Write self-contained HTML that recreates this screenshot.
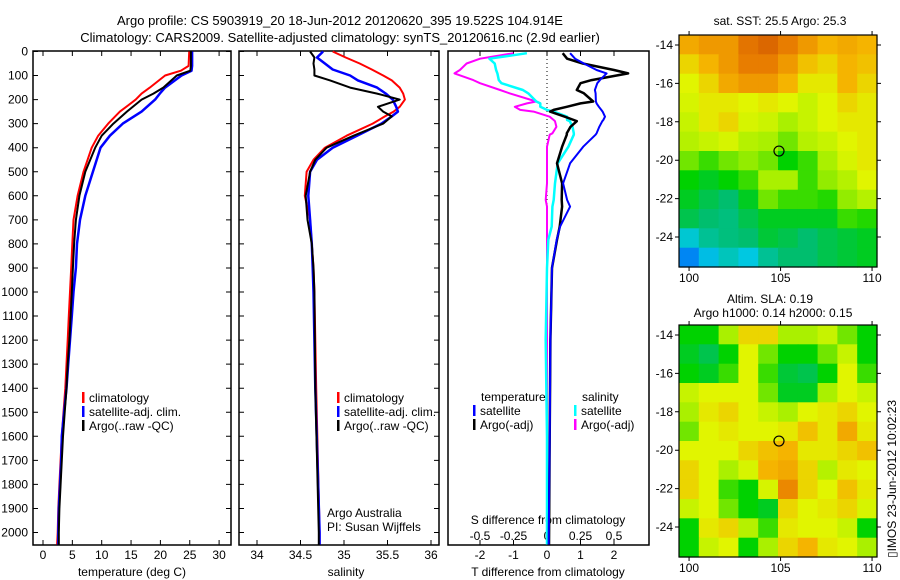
<!DOCTYPE html>
<html><head><meta charset="utf-8"><style>
html,body{margin:0;padding:0;background:#fff;}
svg{display:block;font-family:"Liberation Sans",sans-serif;}
text{fill:#000;font-size:12px;}
</style></head><body>
<svg id="fig" width="900" height="580" viewBox="0 0 900 580" xmlns="http://www.w3.org/2000/svg">
<text x="340" y="25" text-anchor="middle" style="font-size:13px">Argo profile: CS 5903919_20 18-Jun-2012 20120620_395 19.522S 104.914E</text>
<text x="340" y="42" text-anchor="middle" style="font-size:13px">Climatology: CARS2009. Satellite-adjusted climatology: synTS_20120616.nc (2.9d earlier)</text>
<g id="p1"></g>
<g id="p2"></g>
<g id="p3"></g>
<g id="m1"></g>
<g id="m2"></g>
<text x="0" y="0" transform="translate(896,558) rotate(-90)" style="font-size:12px">▯IMOS 23-Jun-2012 10:02:23</text>
</svg>
<script>
// ---- profile data ----
const depthT = [0,60,80,100,150,175,200,250,300,350,400,500,600,700,800,900,1000,1100,1200,1300,1400,1500,1600,1700,1800,1900,2000,2050];
const tempClim = [24.9,24.8,23.5,20.8,18.2,16.8,15.8,13.1,11.1,9.4,8.3,6.9,5.9,5.2,5.0,4.8,4.6,4.4,4.2,4.0,3.8,3.5,3.2,3.0,2.8,2.6,2.5,2.4];
const tempSat = [25.4,25.4,25.3,23.6,20.8,19.9,19.1,16.8,13.6,11.4,9.8,8.5,7.2,6.3,5.8,5.6,5.2,4.9,4.6,4.3,4.0,3.6,3.2,3.1,2.9,2.7,2.6,2.6];
const tempArgo = [25.2,25.2,25.1,22.8,20.5,18.8,16.8,14.3,12.0,10.0,8.9,7.2,6.2,5.6,5.3,5.1,4.9,4.7,4.5,4.2,4.0,3.7,3.4,3.2,3.0,2.8,2.7,2.7];
const depthS = [0,25,50,75,100,120,150,175,200,230,250,270,300,350,400,450,500,600,700,800,900,1000,1400,2000,2050];
const salClim = [34.87,35.02,35.18,35.32,35.45,35.55,35.64,35.68,35.70,35.64,35.57,35.47,35.33,35.03,34.78,34.65,34.57,34.55,34.61,34.63,34.65,34.66,34.68,34.72,34.72];
const salSat = [34.76,34.69,34.78,34.87,35.07,35.16,35.38,35.48,35.56,35.60,35.62,35.55,35.43,35.15,34.87,34.69,34.61,34.59,34.61,34.63,34.64,34.65,34.67,34.72,34.72];
const salArgo = [34.61,34.66,34.65,34.66,34.66,34.84,35.07,35.38,35.64,35.39,35.45,35.55,35.45,35.11,34.80,34.67,34.61,34.56,34.58,34.63,34.65,34.66,34.67,34.71,34.71];
const depthD = [7,30,50,77,91,119,132,160,174,208,216,230,243,250,271,285,290,313,340,346,396,465,548,617,645,728,783,900,1200,1600,2050];
const dTsat = [0.69,0.84,1.1,1.48,1.78,1.58,1.5,1.43,1.45,1.46,1.48,1.55,1.62,1.66,1.73,1.68,1.65,1.56,1.48,1.45,1.08,0.69,0.48,0.6,0.69,0.39,0.29,0.15,0.1,0.08,0.05];
const dTargo = [0.47,0.6,1.07,2.0,2.42,1.33,1.0,0.89,1.1,1.38,1.0,0.59,0.2,0.09,0.53,0.8,0.89,0.7,0.59,0.59,0.45,0.3,0.45,0.44,0.45,0.38,0.3,0.15,0.1,0.08,0.06];
const dSsat = [-0.15,-0.43,-0.39,-0.38,-0.37,-0.36,-0.34,-0.18,-0.14,-0.08,-0.05,-0.05,-0.0,0.05,0.15,0.15,0.17,0.19,0.20,0.20,0.16,0.08,0.06,0.05,0.04,0.035,0.01,0.0,-0.01,0.0,0.0];
const dSargo = [-0.25,-0.5,-0.6,-0.65,-0.69,-0.55,-0.5,-0.35,-0.28,-0.08,-0.15,-0.24,-0.2,-0.1,0.02,0.05,0.06,0.07,0.04,0.02,0.0,0.0,0.0,-0.01,0.0,0.0,0.0,0.0,0.0,0.0,0.0];
const depthTicks = [0,100,200,300,400,500,600,700,800,900,1000,1100,1200,1300,1400,1500,1600,1700,1800,1900,2000];
const tempTicks = [0,5,10,15,20,25,30];
const salTicks = [34,34.5,35,35.5,36];
const tdTicks = [-2,-1,0,1,2];
const sdTicks = [-0.5,-0.25,0,0.25,0.5];
const sdTickLabels = ["-0.5","-0.25","0","0.25","0.5"];
// ---- map data (0..1 colour index, rows lat -14..-25, cols lon ~100..110) ----
const sstGrid = [
[0.82,0.85,0.85,0.92,0.95,0.9,0.85,0.8,0.82,0.8],
[0.75,0.8,0.85,0.9,0.9,0.85,0.78,0.75,0.8,0.78],
[0.7,0.75,0.82,0.85,0.85,0.8,0.72,0.72,0.8,0.75],
[0.68,0.72,0.72,0.7,0.72,0.7,0.65,0.7,0.75,0.72],
[0.65,0.72,0.75,0.68,0.66,0.6,0.65,0.7,0.72,0.72],
[0.62,0.65,0.68,0.62,0.6,0.55,0.62,0.65,0.7,0.72],
[0.55,0.5,0.55,0.58,0.55,0.45,0.5,0.6,0.68,0.72],
[0.45,0.42,0.45,0.5,0.6,0.6,0.5,0.58,0.62,0.7],
[0.42,0.38,0.35,0.42,0.55,0.5,0.5,0.48,0.58,0.62],
[0.38,0.35,0.33,0.38,0.42,0.42,0.42,0.42,0.5,0.48],
[0.22,0.3,0.33,0.35,0.4,0.38,0.35,0.38,0.4,0.42],
[0.08,0.18,0.25,0.2,0.3,0.35,0.35,0.38,0.4,0.42]];
const slaGrid = [
[0.45,0.45,0.6,0.75,0.75,0.6,0.6,0.65,0.55,0.45],
[0.42,0.38,0.45,0.7,0.55,0.45,0.45,0.55,0.65,0.45],
[0.45,0.42,0.5,0.7,0.5,0.4,0.38,0.45,0.7,0.5],
[0.65,0.7,0.7,0.7,0.55,0.42,0.42,0.6,0.7,0.65],
[0.6,0.72,0.75,0.7,0.65,0.6,0.7,0.72,0.75,0.7],
[0.55,0.7,0.72,0.7,0.7,0.72,0.78,0.72,0.82,0.72],
[0.7,0.7,0.7,0.75,0.78,0.8,0.72,0.72,0.75,0.78],
[0.75,0.7,0.6,0.68,0.8,0.82,0.75,0.62,0.72,0.7],
[0.75,0.7,0.5,0.45,0.68,0.88,0.75,0.7,0.78,0.72],
[0.65,0.7,0.55,0.45,0.42,0.75,0.7,0.72,0.75,0.68],
[0.45,0.72,0.75,0.62,0.5,0.72,0.7,0.7,0.65,0.45],
[0.45,0.65,0.7,0.45,0.6,0.75,0.8,0.72,0.7,0.6]];
const lonTicks = [100,105,110];
const latTicks = [-14,-16,-18,-20,-22,-24];
const floatLon = 104.914, floatLat = -19.522;

const NS = "http://www.w3.org/2000/svg";
function mk(parent, tag, attrs, txt){ const e=document.createElementNS(NS,tag); for(const k in attrs) e.setAttribute(k,attrs[k]); if(txt!==undefined) e.textContent=txt; parent.appendChild(e); return e; }
const yD = d => 51.5 + 0.2405*d;
const PT=51, PB=545;

function frame(g, x0, x1, name){
  const r=mk(g,'rect',{x:x0,y:PT,width:x1-x0,height:PB-PT,fill:'none',stroke:'#000','stroke-width':1.5});
  
  
  depthTicks.forEach(d=>{ const y=yD(d);
    const t=mk(g,'path',{d:`M${x0},${y}h5M${x1},${y}h-5`,stroke:'#000','stroke-width':1});
    
    
  });
}
function line(g, xs, ds, xf, color, name, w){
  const p = xs.map((v,i)=>`${i?'L':'M'}${xf(v).toFixed(1)},${yD(ds[i]).toFixed(1)}`).join('');
  const e=mk(g,'path',{d:p,fill:'none',stroke:color,'stroke-width':w||2,'stroke-linejoin':'round'});
  
  
}
function xticks(g, ticks, labels, xf, ylab, name){
  ticks.forEach((v,i)=>{ const x=xf(v);
    const t=mk(g,'path',{d:`M${x},${PB}v-5M${x},${PT}v5`,stroke:'#000','stroke-width':1});
    
    
    const l=mk(g,'text',{x:x,y:ylab,'text-anchor':'middle'},labels[i]);
    
    
  });
}
function legend(g, x, y0, items){
  items.forEach((it,i)=>{ const y=y0+i*14;
    const m=mk(g,'rect',{x:x,y:y-10,width:2.5,height:11,fill:it[1]});
    
    
    const t=mk(g,'text',{x:x+7,y:y},it[0]);
    
    
  });
}

// Panel 1
const p1=document.getElementById('p1');
const xT = v => 43 + 5.87*v;
frame(p1,33,231,'temperature-axes');
depthTicks.forEach(d=>{ const t=mk(p1,'text',{x:28,y:yD(d)+4,'text-anchor':'end'},String(d));
  
   });
xticks(p1,tempTicks,tempTicks.map(String),xT,559,'temperature-tick-label');
line(p1,tempClim,depthT,xT,'#f00','temperature-climatology-line');
line(p1,tempSat,depthT,xT,'#00f','temperature-satellite-line',2.5);
line(p1,tempArgo,depthT,xT,'#000','temperature-argo-line');
legend(p1,82,402,[['climatology','#f00'],['satellite-adj. clim.','#00f'],['Argo(..raw -QC)','#000']]);
mk(p1,'text',{x:132,y:576,'text-anchor':'middle'},'temperature (deg C)');

// Panel 2
const p2=document.getElementById('p2');
const xS = v => 257 + 87*(v-34);
frame(p2,239,439,'salinity-axes');
xticks(p2,salTicks,salTicks.map(String),xS,559,'salinity-tick-label');
line(p2,salClim,depthS,xS,'#f00','salinity-climatology-line');
line(p2,salSat,depthS,xS,'#00f','salinity-satellite-line',2.5);
line(p2,salArgo,depthS,xS,'#000','salinity-argo-line');
legend(p2,337,402,[['climatology','#f00'],['satellite-adj. clim.','#00f'],['Argo(..raw -QC)','#000']]);
mk(p2,'text',{x:327,y:517},'Argo Australia');
mk(p2,'text',{x:327,y:531},'PI: Susan Wijffels');
mk(p2,'text',{x:346,y:576,'text-anchor':'middle'},'salinity');

// Panel 3
const p3=document.getElementById('p3');
const xDT = v => 547 + 33.5*v;
const xDS = v => 547 + 134*v;
mk(p3,'rect',{x:448,y:PT,width:201,height:PB-PT,fill:'none',stroke:'#000','stroke-width':1.5});
mk(p3,'line',{x1:xDT(0),y1:PT,x2:xDT(0),y2:PB,stroke:'#000','stroke-width':1,'stroke-dasharray':'1,3'});
xticks(p3,tdTicks,tdTicks.map(String),xDT,559,'t-diff-tick-label');
sdTicks.forEach((v,i)=>{ const t=mk(p3,'text',{x:xDS(v),y:540,'text-anchor':'middle'},sdTickLabels[i]);
  
   });
mk(p3,'text',{x:548,y:524,'text-anchor':'middle'},'S difference from climatology');
line(p3,dSargo,depthD,xDS,'#f0f','salinity-argo-diff-line');
line(p3,dSsat,depthD,xDS,'#0ff','salinity-satellite-diff-line',2.5);
line(p3,dTargo,depthD,xDT,'#000','temperature-argo-diff-line',2.5);
line(p3,dTsat,depthD,xDT,'#00f','temperature-satellite-diff-line');
mk(p3,'text',{x:481,y:401},'temperature');
mk(p3,'text',{x:582,y:401},'salinity');
legend(p3,473,415,[['satellite','#00f'],['Argo(-adj)','#000']]);
legend(p3,574,415,[['satellite','#0ff'],['Argo(-adj)','#f0f']]);
mk(p3,'text',{x:548,y:576,'text-anchor':'middle'},'T difference from climatology');

// Maps
const stops=[[0,[0,90,255]],[0.2,[0,200,225]],[0.35,[0,190,110]],[0.45,[0,210,0]],[0.6,[170,240,0]],[0.7,[225,245,0]],[0.8,[245,180,0]],[0.9,[232,125,0]],[1,[205,80,0]]];
function cmap(v){ for(let i=1;i<stops.length;i++){ if(v<=stops[i][0]){ const a=stops[i-1],b=stops[i],t=(v-a[0])/(b[0]-a[0]); return 'rgb('+a[1].map((c,k)=>Math.round(c+(b[1][k]-c)*t)).join(',')+')'; } } return 'rgb(205,80,0)'; }
function drawMap(id, grid, top, titles, name){
  const g=document.getElementById(id);
  const L=679,R=877,lonL=99.45,lonR=110.27,latT=-13.48,latB=-25.56,bot=top+232;
  const xL = lon => L + (lon-lonL)/(lonR-lonL)*(R-L);
  const yL = lat => top + (latT-lat)/(latT-latB)*(bot-top);
  const nr=grid.length,nc=grid[0].length;
  const cw=(lonR-lonL)/nc, ch=(latT-latB)/nr;
  grid.forEach((row,r)=>row.forEach((v,c)=>{
    const x0=xL(lonL+c*cw), y0=yL(latT-r*ch);
    const cell=mk(g,'rect',{x:x0.toFixed(1),y:y0.toFixed(1),width:((R-L)/nc+0.6).toFixed(1),height:((bot-top)/nr+0.6).toFixed(1),fill:cmap(v)});
    
    
  }));
  mk(g,'rect',{x:L,y:top,width:R-L,height:bot-top,fill:'none',stroke:'#000','stroke-width':1.2});
  lonTicks.forEach(v=>{ const x=xL(v);
    const t=mk(g,'path',{d:`M${x},${top}v-4M${x},${bot}v4`,stroke:'#000'});
    
    
    const l=mk(g,'text',{x:x,y:bot+15,'text-anchor':'middle'},String(v));
    
     });
  latTicks.forEach(v=>{ const y=yL(v);
    const t=mk(g,'path',{d:`M${L},${y}h-4M${R},${y}h4`,stroke:'#000'});
    
    
    const l=mk(g,'text',{x:673,y:y+4,'text-anchor':'end'},String(v));
    
     });
  const c=mk(g,'circle',{cx:xL(floatLon),cy:yL(floatLat),r:5,fill:'none',stroke:'#000','stroke-width':1.2});
  
  
  titles.forEach((t,i)=>{ const e=mk(g,'text',{x:t[1],y:t[2],'text-anchor':'middle'},t[0]);
    
     });
}
drawMap('m1',sstGrid,35,[['sat. SST: 25.5 Argo: 25.3',780,25]],'sst-map');
drawMap('m2',slaGrid,325,[['Altim. SLA: 0.19',770,303],['Argo h1000: 0.14 h2000: 0.15',773,317]],'sla-map');
</script>
</body></html>
